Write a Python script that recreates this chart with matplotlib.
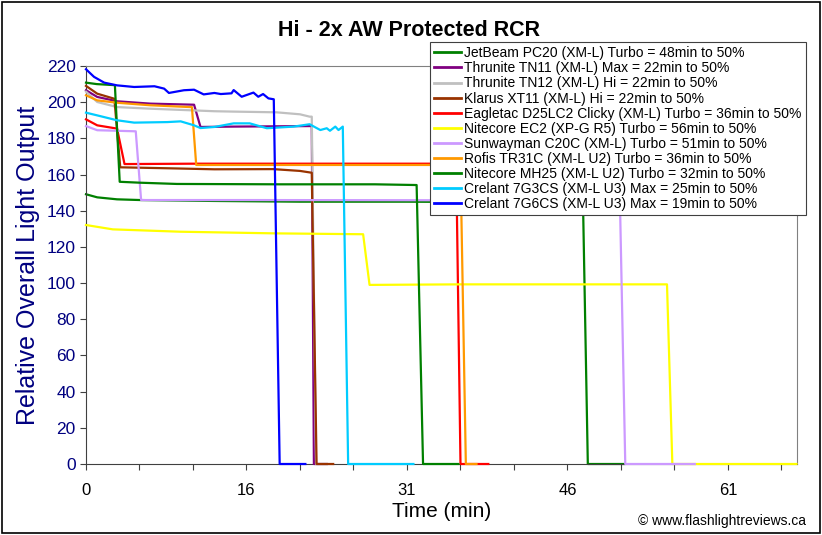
import matplotlib
matplotlib.use("Agg")
import matplotlib.pyplot as plt
from matplotlib.patches import Rectangle

plt.rcParams['font.family'] = ['Liberation Sans', 'DejaVu Sans']

title = "Hi - 2x AW Protected RCR"
x_label = "Time (min)"
y_label = "Relative Overall Light Output"
x_tick_pos = [0, 15, 30, 45, 60]
x_tick_labels = ["0", "16", "31", "46", "61"]
y_ticks = [0, 20, 40, 60, 80, 100, 120, 140, 160, 180, 200, 220]

names = [
    "JetBeam PC20 (XM-L) Turbo = 48min to 50%",
    "Thrunite TN11 (XM-L) Max = 22min to 50%",
    "Thrunite TN12 (XM-L) Hi = 22min to 50%",
    "Klarus XT11 (XM-L) Hi = 22min to 50%",
    "Eagletac D25LC2 Clicky (XM-L) Turbo = 36min to 50%",
    "Nitecore EC2 (XP-G R5) Turbo = 56min to 50%",
    "Sunwayman C20C (XM-L) Turbo = 51min to 50%",
    "Rofis TR31C (XM-L U2) Turbo = 36min to 50%",
    "Nitecore MH25 (XM-L U2) Turbo = 32min to 50%",
    "Crelant 7G3CS (XM-L U3) Max = 25min to 50%",
    "Crelant 7G6CS (XM-L U3) Max = 19min to 50%",
]
colors = ["#008000", "#800080", "#C0C0C0", "#993300", "#FF0000", "#FFFF00",
          "#CC99FF", "#FF9900", "#008000", "#00CCFF", "#0000FF"]

# time positions on the chart's time axis and relative output values
jetbeam_t = [0, 1.05, 2.9, 5.1, 12.0, 20.0, 30.0, 40.0, 46.45, 46.9, 50.3]
jetbeam_y = [149.1, 147.4, 146.3, 145.9, 145.4, 145.0, 145.0, 144.7, 144.5, 0, 0]

tn11_t = [0, 1.05, 2.9, 6.0, 10.1, 10.7, 13.7, 21.1, 21.3, 22.5]
tn11_y = [206.6, 202.9, 200.5, 199.2, 198.6, 186.3, 186.5, 186.8, 0, 0]

tn12_t = [0, 1.05, 2.9, 6.0, 12.0, 13.7, 17.8, 20.0, 20.9, 21.1, 21.5, 22.5]
tn12_y = [205.8, 200.1, 197.3, 196.4, 195.0, 194.8, 194.4, 193.3, 192.0, 192.0, 0, 0]

xt11_t = [0, 1.05, 2.65, 3.2, 8.2, 12.0, 17.5, 20.0, 21.1, 21.55, 23.1]
xt11_y = [209.0, 204.7, 201.9, 164.0, 163.4, 162.9, 163.0, 162.0, 161.0, 0, 0]

d25_t = [0, 1.05, 2.9, 3.6, 10.0, 20.0, 30.0, 34.6, 35.0, 37.6]
d25_y = [190.5, 187.2, 185.4, 165.8, 166.0, 166.0, 166.0, 166.0, 0, 0]

ec2_t = [0, 2.5, 8.8, 17.5, 25.9, 26.5, 35.0, 45.0, 54.3, 54.8, 66.4]
ec2_y = [132.1, 129.7, 128.4, 127.5, 127.0, 99.0, 99.3, 99.3, 99.3, 0, 0]

c20c_t = [0, 1.05, 4.65, 5.15, 15.0, 32.1, 40.0, 49.9, 50.4, 56.9]
c20c_y = [186.8, 184.5, 183.9, 145.9, 145.9, 145.8, 145.7, 145.6, 0, 0]

tr31c_t = [0, 1.05, 2.9, 6.0, 9.7, 9.9, 10.3, 20.0, 30.0, 35.0, 35.5, 36.5]
tr31c_y = [203.8, 201.0, 199.7, 198.3, 197.3, 197.3, 165.3, 165.3, 165.3, 165.3, 0, 0]

mh25_t = [0, 1.0, 2.7, 3.15, 5.0, 8.5, 18.1, 27.0, 30.9, 31.5, 34.8]
mh25_y = [210.8, 210.0, 209.4, 156.0, 155.5, 154.8, 154.6, 154.6, 154.2, 0, 0]

g3cs_t = [0, 1.05, 2.9, 4.5, 7.6, 8.85, 10.1, 10.7, 12.0, 13.8, 15.3, 16.9,
          19.4, 20.9, 21.9, 22.5, 22.8, 23.3, 23.6, 24.0, 24.5, 30.6]
g3cs_y = [194.2, 192.7, 190.0, 188.7, 189.0, 189.4, 187.2, 185.7, 186.3, 188.3, 188.3, 185.6,
          186.5, 187.8, 184.6, 185.6, 184.2, 186.5, 184.6, 186.5, 0, 0]

g6cs_t = [0, 0.75, 1.7, 2.9, 4.5, 6.4, 7.3, 7.75, 9.15, 10.1, 11.0, 12.0, 12.6,
          13.6, 13.8, 14.55, 15.65, 16.1, 16.55, 17.05, 17.55, 18.1, 20.5]
g6cs_y = [218.2, 214.0, 210.8, 209.3, 208.4, 208.8, 207.5, 205.1, 206.6, 206.9, 204.3, 205.1, 204.5,
          204.9, 206.7, 203.0, 205.3, 203.0, 204.5, 202.1, 201.6, 0, 0]

series_t = [jetbeam_t, tn11_t, tn12_t, xt11_t, d25_t, ec2_t, c20c_t, tr31c_t, mh25_t, g3cs_t, g6cs_t]
series_y = [jetbeam_y, tn11_y, tn12_y, xt11_y, d25_y, ec2_y, c20c_y, tr31c_y, mh25_y, g3cs_y, g6cs_y]

fig = plt.figure(figsize=(8.22, 5.35), dpi=100)
fig.patch.set_facecolor("white")
ax = fig.add_axes([86 / 822, 1 - 464 / 535, (797 - 86) / 822, (464 - 66) / 535])

for i, (t, y) in enumerate(zip(series_t, series_y)):
    ax.plot(t, y, color=colors[i], lw=1.6, label=names[i], clip_on=False, zorder=2 + i)

ax.set_xlim(0, 66.45)
ax.set_ylim(0, 220)
ax.set_xticks(x_tick_pos)
ax.set_xticklabels(x_tick_labels)
ax.set_xticks([5, 10, 20, 25, 35, 40, 50, 55, 65], minor=True)
ax.set_yticks(y_ticks)
ax.set_yticklabels([str(v) for v in y_ticks])
ax.tick_params(axis="x", which="both", direction="out", length=4.5, width=0.8,
               labelsize=12, pad=9, colors="#404040", labelcolor="black")
ax.tick_params(axis="y", direction="out", length=4.5, width=0.8, labelsize=12.5,
               pad=3, colors="#404040", labelcolor="#000080")
for s in ["left", "bottom"]:
    ax.spines[s].set_color("#404040")
for s in ["top", "right"]:
    ax.spines[s].set_color("#808080")

ax.set_xlabel(x_label, fontsize=15, labelpad=3)
ax.set_ylabel(y_label, fontsize=18, color="#000080", labelpad=5)
fig.text(409 / 822, 1 - 30 / 535, title, fontsize=15.5, fontweight="bold",
         ha="center", va="center")
fig.text(806 / 822, 1 - 521 / 535, "© www.flashlightreviews.ca", fontsize=10,
         ha="right", va="center")

leg = fig.legend(loc="upper left", bbox_to_anchor=(430 / 822, 1 - 42 / 535),
                 fontsize=10, frameon=True, fancybox=False, framealpha=1,
                 edgecolor="#404040", labelspacing=0.08, borderpad=0.3,
                 handlelength=1.9, handletextpad=0.25, borderaxespad=0)
leg.get_frame().set_linewidth(0.8)
for line in leg.get_lines():
    line.set_linewidth(2.0)

fig.add_artist(Rectangle((0.002, 0.003), 0.995, 0.993, transform=fig.transFigure,
                         fill=False, edgecolor="black", lw=1.2))

fig.savefig("out.png", dpi=100)
